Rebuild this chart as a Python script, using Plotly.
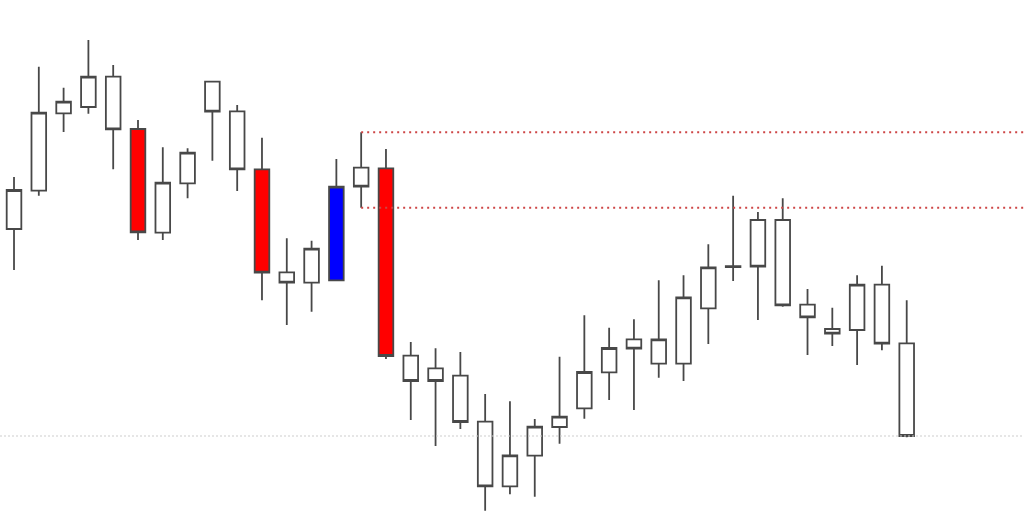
import plotly.graph_objects as go

# Candle data (arbitrary price units), index 0..36
highs = [346.0, 456.3, 435.3, 483.0, 458.0, 403.0, 375.7, 374.7, 441.3, 418.0,
         385.3, 284.7, 282.3, 364.0, 390.7, 374.0, 181.0, 174.7, 171.0, 129.0,
         121.7, 104.0, 166.3, 207.7, 195.3, 203.7, 242.7, 247.7, 278.7, 327.3,
         311.0, 324.7, 234.0, 215.3, 247.7, 257.3, 222.7]
body_tops = [333.0, 410.3, 421.3, 446.3, 446.3, 394.0, 340.3, 370.3, 441.3, 411.7,
             353.7, 250.7, 274.3, 336.3, 355.3, 354.7, 167.3, 154.7, 147.3, 101.3,
             67.7, 96.3, 106.3, 151.0, 175.0, 183.7, 183.7, 225.7, 255.7, 256.8,
             303.0, 303.0, 218.3, 194.0, 238.3, 238.3, 179.7]
body_bottoms = [294.0, 332.3, 409.7, 416.0, 393.7, 290.7, 290.3, 339.7, 411.3, 353.7,
                250.3, 240.3, 240.3, 242.7, 336.3, 167.0, 142.0, 142.0, 101.0, 36.7,
                36.7, 67.3, 96.0, 114.7, 150.7, 174.3, 159.3, 159.3, 214.7, 255.8,
                256.3, 217.7, 205.7, 189.3, 193.0, 179.3, 87.0]
lows = [253.0, 327.3, 391.0, 409.3, 353.7, 283.0, 283.0, 324.7, 362.3, 332.0,
        222.7, 198.0, 211.3, 242.7, 315.3, 164.0, 103.0, 77.0, 94.0, 12.3,
        28.7, 26.3, 79.3, 104.3, 123.0, 113.0, 145.3, 142.0, 179.0, 242.0,
        203.0, 216.3, 168.0, 177.0, 158.0, 172.7, 85.7]
# candle direction: 1 = up (open at bottom), -1 = down (open at top)
direction = [1, 1, 1, 1, -1, -1, 1, 1, -1, -1,
             -1, -1, 1, 1, -1, -1, -1, -1, -1, -1,
             1, 1, 1, 1, 1, -1, 1, 1, 1, -1,
             -1, -1, -1, -1, 1, -1, -1]
red_idx = [5, 10, 15]
blue_idx = [13]

level_start = 14            # candle that defines the two red levels
level_high = highs[14]
level_low = lows[14]
last_close = 87.0

n = len(highs)
x_all = list(range(n))
opens = [body_bottoms[i] if direction[i] > 0 else body_tops[i] for i in range(n)]
closes = [body_tops[i] if direction[i] > 0 else body_bottoms[i] for i in range(n)]

X_MIN, X_MAX = -0.565, 40.73
OUTLINE = "rgb(72,72,72)"


def candle_trace(idx, fill):
    return go.Candlestick(
        x=[x_all[i] for i in idx],
        open=[opens[i] for i in idx],
        high=[highs[i] for i in idx],
        low=[lows[i] for i in idx],
        close=[closes[i] for i in idx],
        increasing=dict(fillcolor=fill, line=dict(color=OUTLINE, width=1.8)),
        decreasing=dict(fillcolor=fill, line=dict(color=OUTLINE, width=1.8)),
        whiskerwidth=0,
        showlegend=False,
        hoverinfo="skip",
    )


white_idx = [i for i in range(n) if i not in red_idx and i not in blue_idx]

fig = go.Figure()
fig.add_trace(go.Scatter(x=[X_MIN, X_MAX], y=[last_close, last_close], mode="lines",
                         line=dict(color="rgb(205,205,205)", width=1, dash="2px,2px"),
                         showlegend=False, hoverinfo="skip"))
fig.add_trace(go.Scatter(x=[level_start, X_MAX], y=[level_high, level_high], mode="lines",
                         line=dict(color="rgb(205,70,70)", width=2, dash="2px,4px"),
                         showlegend=False, hoverinfo="skip"))
fig.add_trace(go.Scatter(x=[level_start, X_MAX], y=[level_low, level_low], mode="lines",
                         line=dict(color="rgb(205,70,70)", width=2, dash="2px,4px"),
                         showlegend=False, hoverinfo="skip"))
fig.add_trace(candle_trace(white_idx, "white"))
fig.add_trace(candle_trace(red_idx, "rgb(255,0,0)"))
fig.add_trace(candle_trace(blue_idx, "rgb(0,0,255)"))

fig.update_layout(
    width=1024, height=523,
    margin=dict(l=0, r=0, t=0, b=0),
    paper_bgcolor="white", plot_bgcolor="white",
    boxgap=0.41, boxgroupgap=0,
    xaxis=dict(range=[X_MIN, X_MAX], visible=False, showgrid=False, zeroline=False,
               rangeslider=dict(visible=False)),
    yaxis=dict(range=[0, 523], visible=False, showgrid=False, zeroline=False),
)

fig.write_html("out.html", config={"displayModeBar": False},
               post_script="document.body.style.margin='0';")
